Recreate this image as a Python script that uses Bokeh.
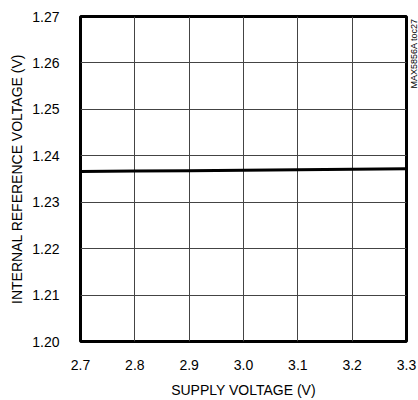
import math
from bokeh.plotting import figure
from bokeh.models import Range1d, FixedTicker, Label
from bokeh.embed import file_html
from bokeh.resources import INLINE

supply_v = [2.7, 2.8, 2.9, 3.0, 3.1, 3.2, 3.3]
vref = [1.2366, 1.2367, 1.2368, 1.2369, 1.2370, 1.2371, 1.2372]
x_ticks = [2.7, 2.8, 2.9, 3.0, 3.1, 3.2, 3.3]
y_ticks = [1.20, 1.21, 1.22, 1.23, 1.24, 1.25, 1.26, 1.27]

FONT = "Liberation Sans"

p = figure(frame_width=326, frame_height=325, output_backend="svg", toolbar_location=None,
           x_range=Range1d(2.7, 3.3), y_range=Range1d(1.20, 1.27),
           min_border_left=80, min_border_right=12, min_border_top=16, min_border_bottom=50)

p.line(supply_v, vref, line_color="black", line_width=3)

p.outline_line_color = "black"
p.outline_line_width = 3
p.outline_line_alpha = 1

for g in (p.xgrid[0], p.ygrid[0]):
    g.grid_line_color = "#444444"
    g.grid_line_width = 1
p.xgrid[0].ticker = FixedTicker(ticks=x_ticks)
p.ygrid[0].ticker = FixedTicker(ticks=y_ticks)

xa = p.xaxis[0]
xa.ticker = FixedTicker(ticks=x_ticks)
xa.major_label_overrides = {t: f"{t:.1f}" for t in x_ticks}
ya = p.yaxis[0]
ya.ticker = FixedTicker(ticks=y_ticks)
ya.major_label_overrides = {t: f"{t:.2f}" for t in y_ticks}

xa.axis_label = "SUPPLY VOLTAGE (V)"
ya.axis_label = "INTERNAL REFERENCE VOLTAGE (V)"
for a in (xa, ya):
    a.axis_line_color = None
    a.major_tick_line_color = None
    a.minor_tick_line_color = None
    a.major_label_text_font = FONT
    a.major_label_text_font_size = "14px"
    a.major_label_text_color = "black"
    a.axis_label_text_font = FONT
    a.axis_label_text_font_size = "14px"
    a.axis_label_text_font_style = "normal"
    a.axis_label_text_color = "black"
xa.major_label_standoff = 12
ya.major_label_standoff = 15
xa.axis_label_standoff = 9
ya.axis_label_standoff = 4

p.add_layout(Label(x=7, y=253, x_units="screen", y_units="screen", text="MAX5856A toc27",
                   angle=math.pi / 2, text_font=FONT, text_font_size="9px",
                   text_color="black", text_baseline="middle", text_align="left"), "right")

open("out.html", "w").write(file_html(p, INLINE))
